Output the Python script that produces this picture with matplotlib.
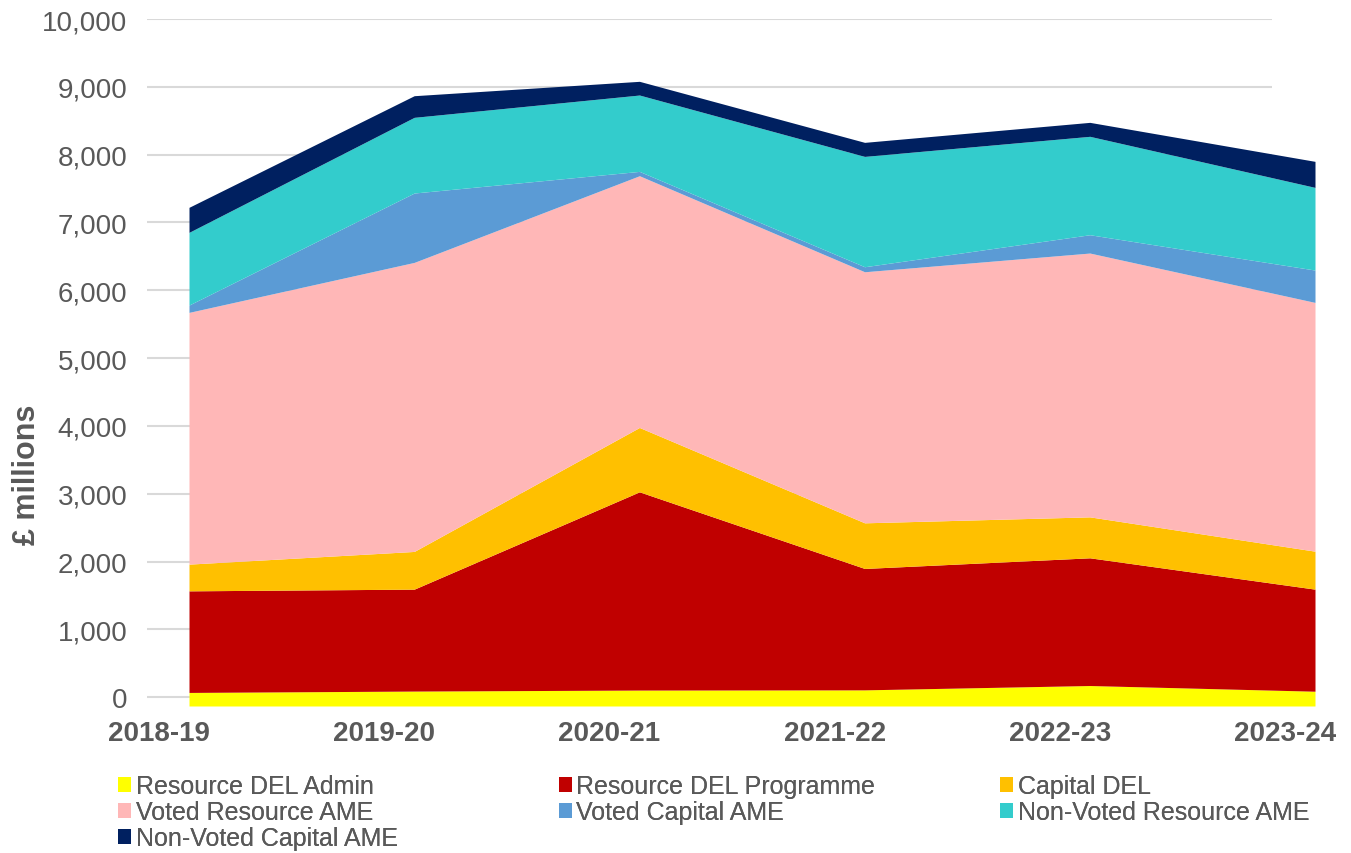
import numpy as np
import matplotlib
matplotlib.use('Agg')
import matplotlib.pyplot as plt
import matplotlib.patches as mpatches
from matplotlib.ticker import FuncFormatter

plt.rcParams['font.family'] = ['Liberation Sans', 'DejaVu Sans']

# ── Data (£ millions) ────────────────────────────────────────────────────────
years = ['2018-19', '2019-20', '2020-21', '2021-22', '2022-23', '2023-24']

res_del_admin     = [70, 90, 105, 108, 172, 88]
res_del_programme = [1498, 1503, 2923, 1790, 1883, 1505]
capital_del       = [394, 556, 949, 673, 604, 560]
voted_res_ame     = [3712, 4262, 3712, 3702, 3890, 3668]
voted_cap_ame     = [108, 1023, 64, 74, 270, 477]
nonvoted_res_ame  = [1072, 1116, 1126, 1627, 1451, 1219]
nonvoted_cap_ame  = [369, 319, 202, 207, 206, 384]

series_names = ['Resource DEL Admin', 'Resource DEL Programme', 'Capital DEL',
                'Voted Resource AME', 'Voted Capital AME',
                'Non-Voted Resource AME', 'Non-Voted Capital AME']
series = [res_del_admin, res_del_programme, capital_del, voted_res_ame,
          voted_cap_ame, nonvoted_res_ame, nonvoted_cap_ame]
colors = ['#FFFF00', '#C00000', '#FFC000', '#FFB7B7',
          '#5B9BD5', '#33CCCC', '#002060']

# ── Layout ───────────────────────────────────────────────────────────────────
W, H = 1351, 854
fig = plt.figure(figsize=(W / 100, H / 100), dpi=100)
ax_left, ax_right, ax_top, ax_bot = 147, 1315, 20, 707
ax = fig.add_axes([ax_left / W, 1 - ax_bot / H,
                   (ax_right - ax_left) / W, (ax_bot - ax_top) / H])

Y_MIN, Y_MAX = -130, 10000
x = np.arange(len(years))
px_per_unit = (1315 - 189) / (len(years) - 1)
ax.set_xlim(-(189 - ax_left) / px_per_unit, len(years) - 1)
ax.set_ylim(Y_MIN, Y_MAX)

# gridlines (stop short of the right edge, as in the source)
yticks = np.arange(0, 10001, 1000)
ax.hlines(yticks, 0, (1272 - ax_left) / (ax_right - ax_left),
          transform=ax.get_yaxis_transform(), color='#D9D9D9', lw=1.5, zorder=0)

# stacked areas
tops = np.cumsum(np.array(series, dtype=float), axis=0)
lower = np.full(len(years), float(Y_MIN))
for i, (name, col) in enumerate(zip(series_names, colors)):
    ax.fill_between(x, lower, tops[i], color=col, lw=0, zorder=2, label=name)
    lower = tops[i]

# axes styling
for s in ax.spines.values():
    s.set_visible(False)
ax.set_yticks(yticks)
ax.yaxis.set_major_formatter(FuncFormatter(lambda v, p: f'{int(v):,}'))
ax.tick_params(axis='y', length=0, pad=14, labelsize=20, labelcolor='#595959')
ax.set_xticks(x - 30 / px_per_unit)
ax.set_xticklabels(years, fontweight='bold')
ax.tick_params(axis='x', length=0, pad=10, labelsize=20, labelcolor='#595959')

fig.text(27 / W, 1 - 475 / H, '£ millions', rotation=90, ha='center', va='center',
         fontsize=22, fontweight='bold', color='#595959')

# legend: three columns placed like the source, filled row by row
handles = [mpatches.Patch(facecolor=c, edgecolor='none') for c in colors]
cols = [[0, 3, 6], [1, 4], [2, 5]]
col_x = [118, 559, 1000]
for cx, idx in zip(col_x, cols):
    leg = fig.legend([handles[i] for i in idx], [series_names[i] for i in idx],
                     loc='upper left', bbox_to_anchor=(cx / W, 1 - 775 / H),
                     frameon=False, fontsize=18, handlelength=0.5,
                     handleheight=0.55, handletextpad=0.2, labelspacing=0.08,
                     borderpad=0, borderaxespad=0, labelcolor='#595959')
    fig.add_artist(leg)

fig.patch.set_facecolor('white')
fig.savefig('out.png', dpi=100, facecolor='white')
plt.close(fig)
